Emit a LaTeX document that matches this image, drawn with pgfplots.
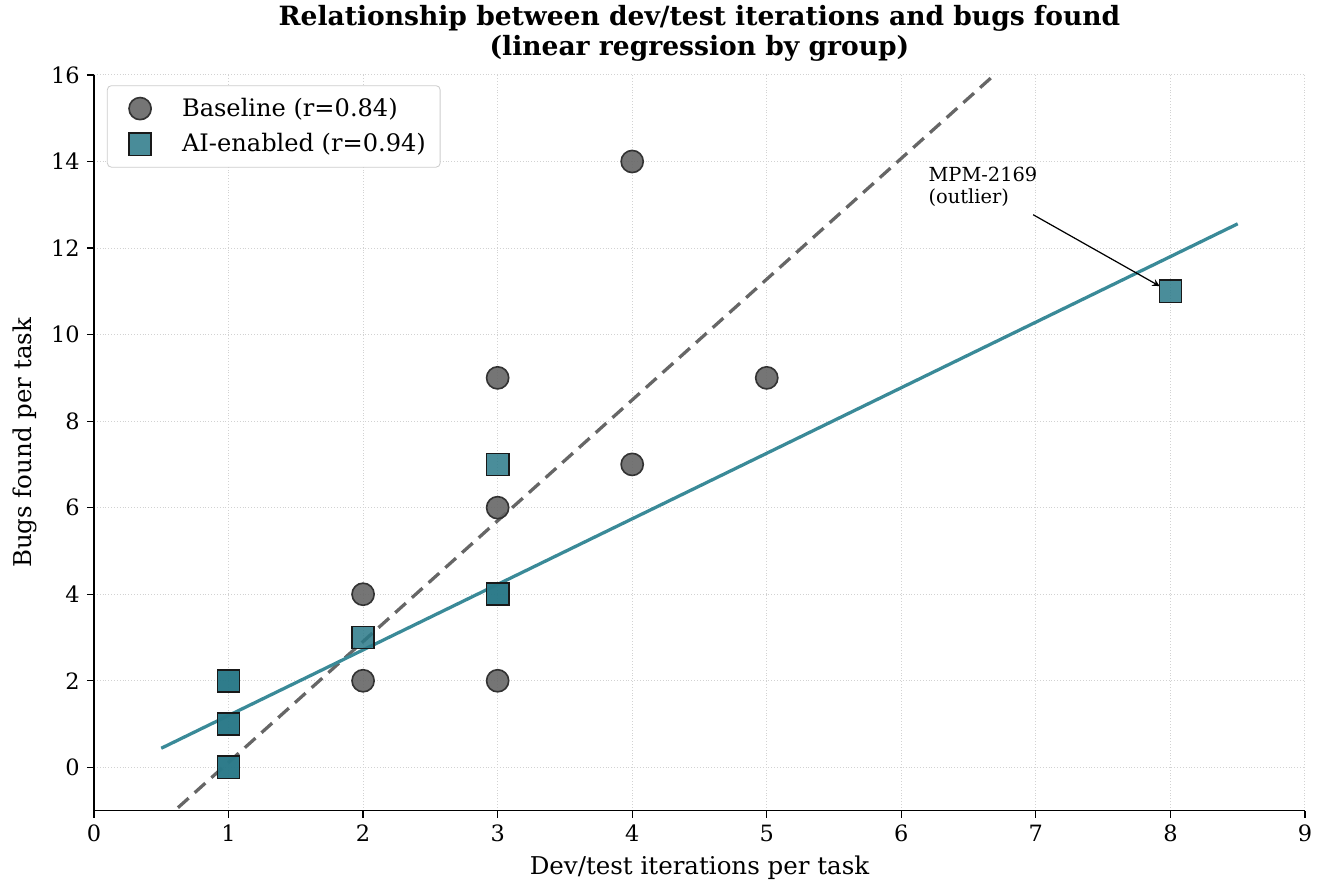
\documentclass[border=0pt]{standalone}
\usepackage{fontspec}
\setmainfont{DejaVu Serif}
\usepackage{pgfplots}
\pgfplotsset{compat=1.18}
\definecolor{teal1}{HTML}{2A7988}
\definecolor{tealline}{HTML}{3A8A98}
\definecolor{basegray}{HTML}{666666}
\begin{document}
\begin{tikzpicture}
\begin{axis}[
  scale only axis,
  width=591bp, height=359bp,
  xmin=0, xmax=9, ymin=-1, ymax=16,
  xtick={0,1,...,9}, ytick={0,2,...,16},
  axis lines=left,
  axis line style={-, line width=0.6pt},
  tick align=outside,
  major tick length=3.5pt,
  tick style={black, line width=0.6pt},
  grid=major,
  grid style={densely dotted, gray!35, line width=0.5pt},
  /pgf/number format/assume math mode=true,
  ticklabel style={font=\fontsize{11}{13}\selectfont},
  xlabel={Dev/test iterations per task},
  ylabel={Bugs found per task},
  label style={font=\fontsize{12}{14}\selectfont},
  title={Relationship between dev/test iterations and bugs found\\(linear regression by group)},
  title style={align=center, font=\bfseries\fontsize{13}{15}\selectfont, yshift=-3pt},
  legend cell align=left,
  legend style={font=\fontsize{11.8}{14}\selectfont, draw=gray!40, rounded corners=2pt, inner xsep=5pt, inner ysep=4pt, row sep=3pt, at={(0.0107,0.986)}, anchor=north west},
  legend image code/.code={\path[draw=none,fill=none] (0bp,0bp) rectangle (29.5bp,0.1bp); \draw[#1] plot coordinates {(11bp,0bp)};},
]
\coordinate (bbsw) at (rel axis cs:-0.0776,-0.0978);
\coordinate (bbne) at (rel axis cs:1.0182,1.1019);
\addplot[forget plot, basegray, dashed, dash pattern=on 7pt off 4pt, line width=1.6pt] coordinates {(0.5,-1.28) (8.5,21.05)};
\addplot[forget plot, tealline, line width=1.6pt] coordinates {(0.5,0.44) (8.5,12.56)};
\addplot[only marks, mark=*, mark size=5.4bp, mark options={fill=basegray, fill opacity=0.9, draw=black!80, line width=0.8pt}] coordinates {
(2,4) (2,2) (3,9) (3,6) (3,2) (4,14) (4,7) (5,9)};
\addlegendentry{Baseline (r=0.84)}
\addplot[only marks, mark=square*, mark size=5.4bp, mark options={fill=teal1, fill opacity=0.85, draw=black!90, line width=0.8pt}] coordinates {
(1,0) (1,0) (1,1) (1,1) (1,2) (1,2) (2,3) (3,7) (3,4) (3,4) (8,11)};
\addlegendentry{AI-enabled (r=0.94)}
\node[anchor=south west, align=left, font=\fontsize{9.5}{11}\selectfont, inner sep=0pt] at (axis cs:6.2,12.95) {MPM-2169\\(outlier)};
\draw[-stealth, line width=0.6pt] (axis cs:6.98,12.77) -- (axis cs:7.92,11.12);
\end{axis}
\pgfresetboundingbox
\path (bbsw) rectangle (bbne);
\end{tikzpicture}
\end{document}
